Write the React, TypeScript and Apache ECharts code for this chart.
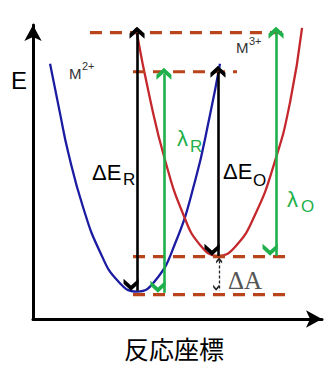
import React, { useEffect, useRef } from "react";
import * as echarts from "echarts";

// Axis titles
const X_AXIS_NAME = "反応座標";
const Y_AXIS_NAME = "E";

// Potential-energy curves (reaction coordinate, energy), 0..100 units
const m2CurveX = [5.9, 9.3, 12.1, 17.3, 23.2, 29.4, 36.0, 42.2, 49.1, 56.1, 61.2, 64.7];
const m2CurveY = [86.8, 70.2, 57.0, 38.1, 22.8, 12.9, 9.3, 12.9, 25.5, 47.0, 69.2, 86.8];
const m3CurveX = [35.6, 40.5, 45.7, 51.9, 57.8, 64.0, 69.9, 76.8, 83.7, 88.9, 93.1];
const m3CurveY = [99.0, 74.8, 54.0, 35.8, 25.2, 21.5, 24.5, 35.4, 53.6, 73.5, 99.0];

// Dashed energy levels
const levelY = [97.4, 84.1, 21.2, 8.3];
const levelXStart = [19.7, 34.6, 34.6, 34.6];
const levelXEnd = [88.2, 70.6, 87.2, 87.2];

// Double-headed arrows: ΔE_R, λ_R, ΔE_O, λ_O, ΔA
const arrowNames = ["ΔE_R", "λ_R", "ΔE_O", "λ_O", "ΔA"];
const arrowX = [36.0, 45.3, 64.0, 84.1, 64.4];
const arrowYTop = [97.4, 83.4, 84.1, 97.4, 19.9];
const arrowYBottom = [9.6, 8.9, 21.5, 21.5, 9.6];

const CHEVRON = "path://M5,0 L10,5.8 L10,10 L5,4.4 L0,10 L0,5.8 Z";

const zip = (xs: number[], ys: number[]) => xs.map((x, i) => [x, ys[i]]);

function arrowPair(i: number) {
  return [
    { name: arrowNames[i], coord: [arrowX[i], arrowYTop[i]] },
    { coord: [arrowX[i], arrowYBottom[i]] },
  ];
}

function txt(text: string, x: number, y: number, size: number, fill: string, family = "Liberation Sans") {
  return {
    type: "text",
    x,
    y,
    silent: true,
    style: {
      text,
      x: 0,
      y: 0,
      fill,
      fontSize: size,
      fontFamily: family,
      align: "left",
      verticalAlign: "middle",
    },
  };
}

export default function App() {
  const ref = useRef<HTMLDivElement>(null);
  useEffect(() => {
    document.body.style.margin = "0";
    if (!ref.current) return;
    const chart = echarts.init(ref.current, undefined, { renderer: "svg" });
    const axisCommon = {
      type: "value",
      min: 0,
      max: 100,
      axisTick: { show: false },
      axisLabel: { show: false },
      splitLine: { show: false },
    };
    const levelSeries = levelY.map((y, i) => ({
      type: "line",
      name: "level" + i,
      data: [
        [levelXStart[i], y],
        [levelXEnd[i], y],
      ],
      symbol: "none",
      silent: true,
      z: 3,
      lineStyle: { color: "#b9431a", width: 3.2, type: [12, 8] },
    }));
    const arrowSeries = (name: string, idx: number[], color: string, width: number, size: number[], dashed: boolean) => ({
      type: "line",
      name,
      data: [],
      z: 4,
      markLine: {
        silent: true,
        animation: false,
        symbol: [CHEVRON, CHEVRON],
        symbolSize: size,
        symbolOffset: [0, size[1] / 2],
        label: { show: false },
        emphasis: { disabled: true },
        lineStyle: { color, width, type: dashed ? [3, 2] : "solid" },
        data: idx.map(arrowPair),
      },
    });
    chart.setOption({
      animation: false,
      backgroundColor: "#ffffff",
      grid: { left: 33, right: 11, top: 25, bottom: 38 },
      xAxis: {
        ...axisCommon,
        name: X_AXIS_NAME,
        nameLocation: "middle",
        nameGap: 16,
        nameTextStyle: {
          fontSize: 25,
          color: "#000",
          fontFamily: "Noto Sans CJK JP",
          padding: [0, 7, 0, 0],
        },
        axisLine: {
          show: true,
          onZero: false,
          symbol: ["none", "arrow"],
          symbolSize: [13, 16],
          lineStyle: { color: "#000", width: 3 },
        },
      },
      yAxis: {
        ...axisCommon,
        name: Y_AXIS_NAME,
        nameLocation: "end",
        nameGap: -55,
        nameTextStyle: {
          fontSize: 24,
          color: "#000",
          fontFamily: "Liberation Sans",
          align: "right",
          verticalAlign: "middle",
          padding: [0, 6, 0, 0],
        },
        axisLine: {
          show: true,
          onZero: false,
          symbol: ["none", "arrow"],
          symbolSize: [13, 16],
          lineStyle: { color: "#000", width: 3 },
        },
      },
      series: [
        {
          type: "line",
          name: "M2+",
          data: zip(m2CurveX, m2CurveY),
          smooth: 0.5,
          symbol: "none",
          z: 2,
          lineStyle: { color: "#1c1ca2", width: 2.3 },
        },
        {
          type: "line",
          name: "M3+",
          data: zip(m3CurveX, m3CurveY),
          smooth: 0.5,
          symbol: "none",
          z: 2,
          lineStyle: { color: "#c4282c", width: 2.3 },
        },
        ...levelSeries,
        arrowSeries("black arrows", [0, 2], "#000000", 2.6, [15, 12], false),
        arrowSeries("green arrows", [1, 3], "#1fb04c", 2.6, [15, 12], false),
        arrowSeries("ΔA arrow", [4], "#222222", 1.3, [6, 6], true),
      ],
      graphic: [
        txt("M", 69, 73, 15, "#333"),
        txt("2+", 82, 66, 11, "#333"),
        txt("M", 236, 47, 15, "#333"),
        txt("3+", 249, 41, 11, "#333"),
        txt("ΔE", 92, 172, 22, "#000"),
        txt("R", 123, 179, 17, "#000"),
        txt("λ", 177, 138, 22, "#1fb04c"),
        txt("R", 190, 146, 17, "#1fb04c"),
        txt("ΔE", 223, 171, 22, "#000"),
        txt("O", 253, 180, 17, "#000"),
        txt("λ", 287, 199, 22, "#1fb04c"),
        txt("O", 301, 206, 17, "#1fb04c"),
        txt("ΔA", 228, 280, 25, "#555", "Liberation Serif"),
      ],
    });
    return () => chart.dispose();
  }, []);
  return <div ref={ref} style={{ width: 333, height: 365 }} />;
}
